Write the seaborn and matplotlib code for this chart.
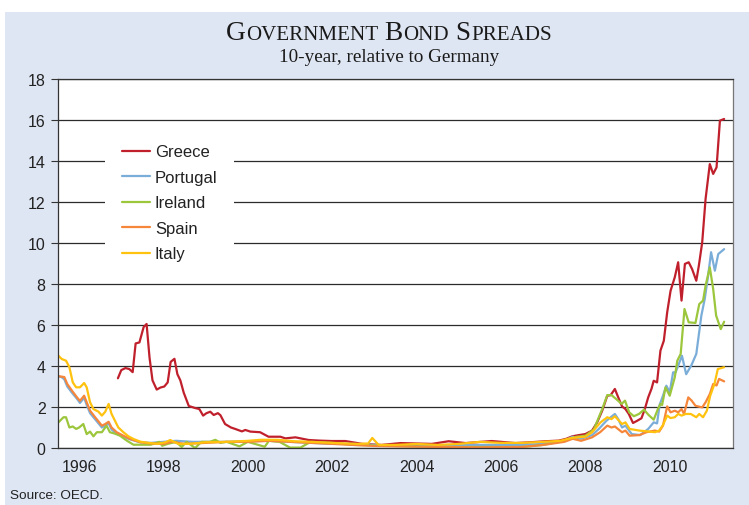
import matplotlib
matplotlib.use("Agg")
import matplotlib.pyplot as plt
import numpy as np
import pandas as pd
import seaborn as sns
from matplotlib.offsetbox import AnchoredOffsetbox, HPacker, TextArea
from matplotlib.patches import Rectangle

# values (10-year spread vs Germany, % points)
greece_years = [1997.42, 1997.50, 1997.60, 1997.69, 1997.77, 1997.84, 1997.93, 1998.03, 1998.10, 1998.17,
                1998.24, 1998.34, 1998.43, 1998.52, 1998.60, 1998.67, 1998.76, 1998.83, 1998.90, 1998.98,
                1999.10, 1999.25, 1999.35, 1999.44, 1999.52, 1999.61, 1999.69, 1999.79, 1999.85, 1999.96,
                2000.10, 2000.20, 2000.36, 2000.44, 2000.56, 2000.79, 2000.99, 2001.27, 2001.39, 2001.63,
                2001.94, 2002.20, 2002.49, 2002.81, 2003.21, 2003.67, 2004.12, 2004.50, 2004.86, 2005.26,
                2005.66, 2006.28, 2006.84, 2007.20, 2007.56, 2007.87, 2008.05, 2008.19, 2008.35, 2008.50,
                2008.66, 2008.78, 2008.90, 2009.02, 2009.10, 2009.20, 2009.28, 2009.37, 2009.45, 2009.53,
                2009.63, 2009.73, 2009.83, 2009.91, 2009.99, 2010.07, 2010.12, 2010.20, 2010.28, 2010.36,
                2010.44, 2010.52, 2010.62, 2010.70, 2010.78, 2010.86, 2010.95, 2011.03, 2011.13, 2011.19,
                2011.27, 2011.35, 2011.45, 2011.53, 2011.61, 2011.69, 2011.79]
greece = [3.4, 3.8, 3.9, 3.85, 3.7, 5.1, 5.15, 5.9, 6.05, 4.4,
          3.3, 2.85, 2.95, 3.0, 3.2, 4.2, 4.35, 3.6, 3.3, 2.7,
          2.05, 1.95, 1.9, 1.58, 1.7, 1.77, 1.61, 1.7, 1.6, 1.17,
          1.0, 0.93, 0.81, 0.88, 0.8, 0.77, 0.55, 0.55, 0.47, 0.52,
          0.39, 0.36, 0.34, 0.34, 0.2, 0.15, 0.24, 0.22, 0.2, 0.33,
          0.24, 0.34, 0.24, 0.28, 0.33, 0.36, 0.45, 0.57, 0.63, 0.68,
          0.85, 1.25, 1.82, 2.55, 2.58, 2.88, 2.47, 2.03, 1.9, 1.66,
          1.22, 1.33, 1.45, 1.9, 2.47, 2.9, 3.28, 3.2, 4.75, 5.23,
          6.62, 7.67, 8.33, 9.06, 7.19, 8.98, 9.06, 8.73, 8.16, 8.89,
          10.03, 12.15, 13.85, 13.37, 13.69, 15.97, 16.05]

portugal_years = [1996.01, 1996.09, 1996.15, 1996.22, 1996.33, 1996.45, 1996.52, 1996.62, 1996.68, 1996.76,
                  1996.88, 1997.04, 1997.12, 1997.20, 1997.27, 1997.39, 1997.55, 1997.71, 1997.95, 1998.20,
                  1998.50, 1998.80, 1999.20, 1999.60, 2000.00, 2000.50, 2001.00, 2001.50, 2002.00, 2002.50,
                  2003.00, 2003.50, 2004.00, 2004.50, 2005.00, 2006.00, 2007.00, 2007.50, 2008.00, 2008.20,
                  2008.40, 2008.66, 2008.82, 2009.00, 2009.10, 2009.20, 2009.28, 2009.37, 2009.45, 2009.60,
                  2009.80, 2009.99, 2010.12, 2010.20, 2010.26, 2010.34, 2010.42, 2010.50, 2010.58, 2010.64,
                  2010.79, 2010.89, 2011.01, 2011.13, 2011.25, 2011.33, 2011.41, 2011.48, 2011.57, 2011.65,
                  2011.79]
portugal = [3.5, 3.45, 3.35, 3.0, 2.7, 2.4, 2.2, 2.45, 2.1, 1.7,
            1.4, 1.0, 1.1, 1.2, 0.9, 0.7, 0.55, 0.42, 0.28, 0.25,
            0.3, 0.35, 0.3, 0.3, 0.3, 0.33, 0.35, 0.3, 0.25, 0.2,
            0.2, 0.15, 0.12, 0.1, 0.12, 0.15, 0.15, 0.2, 0.35, 0.55,
            0.45, 0.63, 0.93, 1.33, 1.5, 1.66, 1.41, 1.0, 1.09, 0.68,
            0.63, 0.93, 1.25, 1.2, 2.1, 2.55, 3.04, 2.72, 3.69, 3.69,
            4.5, 3.6, 4.02, 4.59, 6.46, 7.27, 8.4, 9.55, 8.65, 9.46,
            9.7]

ireland_years = [1996.01, 1996.13, 1996.19, 1996.27, 1996.35, 1996.43, 1996.50, 1996.60, 1996.68, 1996.76,
                 1996.84, 1996.92, 1997.04, 1997.15, 1997.23, 1997.35, 1997.47, 1997.63, 1997.79, 1998.00,
                 1998.20, 1998.40, 1998.47, 1998.60, 1998.80, 1998.93, 1999.05, 1999.25, 1999.40, 1999.60,
                 1999.73, 1999.85, 2000.00, 2000.30, 2000.50, 2000.90, 2001.00, 2001.25, 2001.50, 2001.75,
                 2001.90, 2002.00, 2002.50, 2003.00, 2004.00, 2005.00, 2006.00, 2007.00, 2007.50, 2008.00,
                 2008.30, 2008.50, 2008.70, 2008.90, 2009.02, 2009.12, 2009.23, 2009.36, 2009.44, 2009.54,
                 2009.65, 2009.77, 2009.89, 2010.00, 2010.12, 2010.22, 2010.28, 2010.32, 2010.40, 2010.50,
                 2010.62, 2010.68, 2010.76, 2010.85, 2010.95, 2011.11, 2011.20, 2011.29, 2011.35, 2011.45,
                 2011.53, 2011.60, 2011.71, 2011.79]
ireland = [1.25, 1.5, 1.5, 1.0, 1.05, 0.93, 1.0, 1.17, 0.68, 0.8,
           0.57, 0.77, 0.77, 1.09, 0.77, 0.7, 0.6, 0.36, 0.16, 0.16,
           0.16, 0.3, 0.11, 0.2, 0.3, 0.05, 0.3, 0.0, 0.3, 0.3,
           0.4, 0.25, 0.3, 0.08, 0.3, 0.06, 0.35, 0.3, 0.02, 0.02,
           0.2, 0.3, 0.25, 0.15, 0.1, 0.05, 0.05, 0.05, 0.15, 0.35,
           0.55, 0.6, 0.9, 1.9, 2.58, 2.58, 2.39, 2.15, 2.31, 1.74,
           1.55, 1.66, 1.87, 1.61, 1.38, 1.9, 2.15, 2.1, 2.96, 2.55,
           3.45, 4.26, 4.59, 6.78, 6.13, 6.1, 7.02, 7.19, 7.92, 8.81,
           7.76, 6.46, 5.8, 6.16]

spain_years = [1996.01, 1996.09, 1996.15, 1996.22, 1996.33, 1996.45, 1996.52, 1996.62, 1996.68, 1996.76,
               1996.88, 1997.04, 1997.12, 1997.20, 1997.27, 1997.39, 1997.55, 1997.71, 1997.95, 1998.20,
               1998.50, 1998.70, 1999.00, 1999.50, 2000.00, 2000.50, 2001.00, 2001.50, 2002.00, 2002.50,
               2003.00, 2003.50, 2004.00, 2005.00, 2006.00, 2007.00, 2007.50, 2008.00, 2008.20, 2008.40,
               2008.66, 2008.85, 2009.02, 2009.12, 2009.20, 2009.37, 2009.45, 2009.55, 2009.78, 2009.95,
               2010.15, 2010.25, 2010.34, 2010.44, 2010.52, 2010.62, 2010.70, 2010.78, 2010.84, 2010.94,
               2011.02, 2011.11, 2011.27, 2011.35, 2011.45, 2011.53, 2011.61, 2011.67, 2011.79]
spain = [3.5, 3.48, 3.46, 3.12, 2.8, 2.47, 2.3, 2.55, 2.23, 1.82,
         1.5, 1.09, 1.17, 1.28, 1.0, 0.77, 0.6, 0.44, 0.28, 0.22,
         0.2, 0.3, 0.2, 0.25, 0.3, 0.3, 0.35, 0.3, 0.25, 0.2,
         0.15, 0.1, 0.08, 0.05, 0.03, 0.05, 0.15, 0.3, 0.45, 0.35,
         0.52, 0.77, 1.09, 1.0, 1.05, 0.77, 0.85, 0.6, 0.63, 0.77,
         0.85, 0.8, 1.09, 2.03, 1.74, 1.82, 1.74, 1.9, 1.66, 2.47,
         2.31, 2.06, 1.98, 2.23, 2.63, 3.12, 3.05, 3.37, 3.25]

italy_years = [1996.01, 1996.09, 1996.19, 1996.27, 1996.35, 1996.43, 1996.52, 1996.62, 1996.68, 1996.76,
               1996.84, 1996.96, 1997.04, 1997.12, 1997.20, 1997.27, 1997.35, 1997.43, 1997.55, 1997.67,
               1997.79, 1997.95, 1998.15, 1998.35, 1998.55, 1998.66, 1998.85, 1999.10, 1999.50, 2000.00,
               2000.50, 2000.80, 2001.20, 2001.60, 2002.00, 2002.50, 2003.10, 2003.35, 2003.45, 2003.60,
               2004.00, 2004.50, 2005.00, 2005.50, 2006.00, 2006.50, 2007.00, 2007.50, 2007.90, 2008.20,
               2008.50, 2008.66, 2008.86, 2009.02, 2009.12, 2009.20, 2009.37, 2009.45, 2009.55, 2009.78,
               2010.02, 2010.15, 2010.25, 2010.34, 2010.44, 2010.52, 2010.62, 2010.70, 2010.78, 2010.88,
               2011.00, 2011.13, 2011.20, 2011.29, 2011.38, 2011.46, 2011.56, 2011.64, 2011.79]
italy = [4.5, 4.34, 4.26, 3.94, 3.2, 2.96, 2.96, 3.17, 2.96, 2.23,
         1.9, 1.77, 1.58, 1.77, 2.15, 1.66, 1.33, 1.0, 0.77, 0.57,
         0.44, 0.31, 0.25, 0.2, 0.28, 0.39, 0.2, 0.2, 0.28, 0.3,
         0.35, 0.4, 0.4, 0.33, 0.3, 0.25, 0.2, 0.22, 0.49, 0.15,
         0.15, 0.2, 0.15, 0.2, 0.3, 0.25, 0.25, 0.3, 0.35, 0.5,
         0.55, 0.77, 1.25, 1.5, 1.41, 1.55, 1.17, 1.25, 0.93, 0.85,
         0.8, 0.77, 0.85, 1.12, 1.58, 1.46, 1.5, 1.66, 1.58, 1.66,
         1.66, 1.5, 1.66, 1.5, 1.82, 2.55, 3.12, 3.85, 3.94]

countries = ["Greece", "Portugal", "Ireland", "Spain", "Italy"]
colors = ["#c0202c", "#7badd9", "#9cc63c", "#f5863a", "#ffc20e"]
y_ticks = list(range(0, 19, 2))
x_labels = ["1996", "1998", "2000", "2002", "2004", "2006", "2008", "2010"]

series = {
    "Greece": (greece_years, greece),
    "Portugal": (portugal_years, portugal),
    "Ireland": (ireland_years, ireland),
    "Spain": (spain_years, spain),
    "Italy": (italy_years, italy),
}
df = pd.concat(
    [pd.DataFrame({"year": yrs, "spread": vals, "country": name}) for name, (yrs, vals) in series.items()],
    ignore_index=True,
)

sns.set_style("white")
plt.rcParams["font.family"] = ["Liberation Sans", "DejaVu Sans"]

bg = "#dfe6f3"
W, H = 749, 506
fig = plt.figure(figsize=(W / 100, H / 100), dpi=100)
fig.patch.set_facecolor("white")
fig.add_artist(Rectangle((5 / W, 0), 1, 1 - 13 / H, transform=fig.transFigure,
                         facecolor=bg, edgecolor="none", zorder=-5))
ax = fig.add_axes([58 / W, 1 - 449 / H, (733 - 58) / W, (449 - 80) / H])
ax.set_facecolor("white")

sns.lineplot(data=df, x="year", y="spread", hue="country", hue_order=countries,
             palette=dict(zip(countries, colors)), estimator=None, sort=False,
             linewidth=1.6, legend=False, ax=ax)

ax.set_xlim(1996, 2012)
ax.set_ylim(0, 18)
ax.set_yticks(y_ticks)
ax.set_xticks(np.arange(1996, 2013))
ax.set_xticklabels([])
ax.set_xticks([int(l) + 0.5 for l in x_labels], minor=True)
ax.set_xticklabels(x_labels, minor=True)
ax.tick_params(axis="x", which="major", direction="out", length=5, width=0.8, color="#333333")
ax.tick_params(axis="x", which="minor", length=0, pad=8, labelsize=11.5, labelcolor="#222222")
ax.tick_params(axis="y", direction="out", length=5, width=0.8, color="#333333",
               pad=4, labelsize=11.5, labelcolor="#222222", left=True)
ax.set_xlabel("")
ax.set_ylabel("")
ax.grid(axis="y", color="#2b2b2b", linewidth=0.9)
ax.grid(axis="x", visible=False)
ax.set_axisbelow(True)
for side in ["left", "bottom", "top", "right"]:
    ax.spines[side].set_visible(True)
    ax.spines[side].set_color("#333333")
    ax.spines[side].set_linewidth(0.9)
ax.spines["right"].set_color("#777777")

leg = ax.legend(ax.lines[:5], countries, loc="upper left", bbox_to_anchor=(0.07, 0.868),
                borderaxespad=0, frameon=True, fancybox=False, fontsize=12,
                handlelength=1.68, handletextpad=0.3, labelspacing=0.63, borderpad=1.0)
leg.get_frame().set_facecolor("white")
leg.get_frame().set_edgecolor("none")
leg.get_frame().set_alpha(1)
for t in leg.get_texts():
    t.set_color("#222222")

# small-caps title
serif = "Liberation Serif"
big, small = 19.7, 15.1
parts = [("G", big), ("OVERNMENT", small), (" B", big), ("OND", small), (" S", big), ("PREADS", small)]
boxes = [TextArea(s, textprops=dict(fontsize=fs, family=serif, color="#1a1a1a")) for s, fs in parts]
title = AnchoredOffsetbox(loc="center", child=HPacker(children=boxes, align="baseline", pad=0, sep=0),
                          bbox_to_anchor=(0.519, 1 - 33 / H), bbox_transform=fig.transFigure,
                          frameon=False, pad=0, borderpad=0)
fig.add_artist(title)
fig.text(0.519, 1 - 58 / H, "10-year, relative to Germany", ha="center", va="center",
         fontsize=13.8, family=serif, color="#1a1a1a")

fig.text(10 / W, 1 - 496 / H, "Source: OECD.", ha="left", va="center", fontsize=9.7, color="#222222")

fig.savefig("out.png", dpi=100, facecolor=fig.get_facecolor())
